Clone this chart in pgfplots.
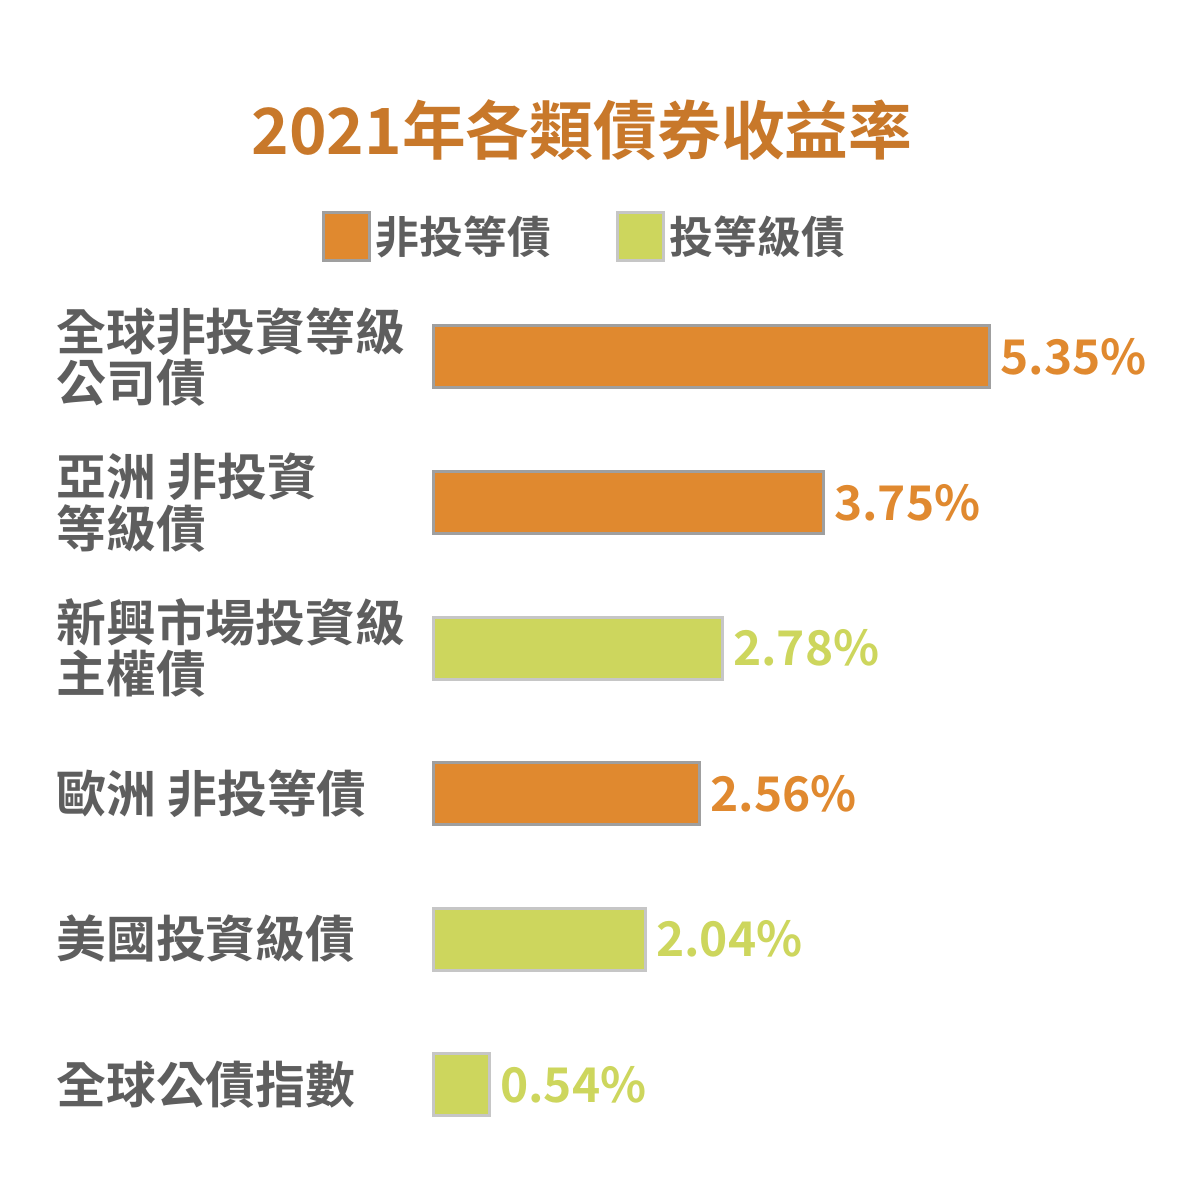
\documentclass[border=0pt]{standalone}
\usepackage{pgfplots}
\pgfplotsset{compat=1.18}
\usepackage{fontspec}
\setmainfont{Noto Sans CJK TC Bold}
\definecolor{orn}{HTML}{E0892F}
\definecolor{grn}{HTML}{CDD65D}
\definecolor{txt}{HTML}{5E5E5E}
\definecolor{ttl}{HTML}{C8782A}
\begin{document}
\begin{tikzpicture}[x=1bp,y=1bp]
\fill[white] (0,0) rectangle (1201,1201);
\begin{axis}[at={(433bp,43.75bp)},anchor=south west,scale only axis,
  width=728.7bp,height=873bp,xmin=0,xmax=7,ymin=-0.5,ymax=5.5,y dir=reverse,
  axis line style={draw=none},ticks=none,xbar,bar width=62bp,bar shift=0pt,
  /pgf/number format/assume math mode=true,
  nodes near coords={\pgfmathprintnumber[fixed,fixed zerofill,precision=2]{\pgfplotspointmeta}\%},
  nodes near coords style={font=\fontsize{48}{48}\selectfont,anchor=west,xshift=6bp},
  clip=false]
\addplot[fill=orn,draw=gray!75,line width=3bp,nodes near coords style={text=orn}] coordinates {(5.35,0) (3.75,1) (2.56,3)};
\addplot[fill=grn,draw=gray!45,line width=3bp,nodes near coords style={text=grn}] coordinates {(2.78,2) (2.04,4) (0.54,5)};
\foreach \i/\t in {0/{全球非投資等級\\公司債},1/{亞洲 非投資\\等級債},2/{新興市場投資級\\主權債},3/{歐洲 非投等債},4/{美國投資級債},5/{全球公債指數}}{
  \edef\temp{\noexpand\node[anchor=west,align=left,text=txt,font=\noexpand\fontsize{50}{52}\noexpand\selectfont] at (axis cs:0,\i) [xshift=-380bp] {\t};}
  \temp
}
\end{axis}
\node[text=ttl,font=\fontsize{64}{64}\selectfont] at (582,1071) {2021年各類債券收益率};
\fill[orn,draw=gray!75,line width=3bp] (323,940) rectangle (369,988);
\node[anchor=west,text=txt,font=\fontsize{44}{44}\selectfont] at (372,964) {非投等債};
\fill[grn,draw=gray!45,line width=3bp] (617,940) rectangle (663,988);
\node[anchor=west,text=txt,font=\fontsize{44}{44}\selectfont] at (666,964) {投等級債};
\pgfresetboundingbox
\useasboundingbox (0,0) rectangle (1201,1201);
\end{tikzpicture}
\end{document}
